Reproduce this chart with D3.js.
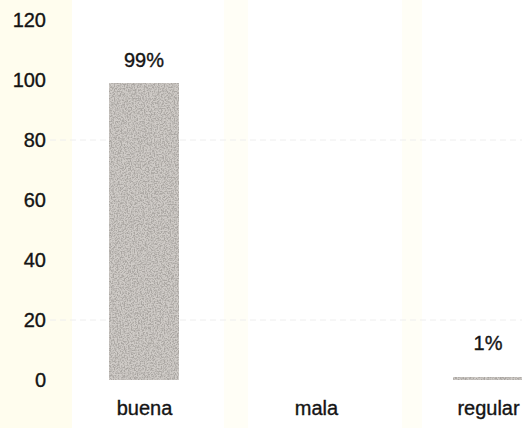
<!DOCTYPE html>
<html>
<head>
<meta charset="utf-8">
<script src="https://cdn.jsdelivr.net/npm/d3@7"></script>
<style>
  html, body { margin: 0; padding: 0; background: #ffffff; }
  svg { display: block; }
  text { font-family: "Liberation Sans", Arial, sans-serif; fill: #141414; stroke: #141414; stroke-width: 0.35px; }
</style>
</head>
<body>
<script>
const categories = ["buena", "mala", "regular"];
const values = [99, 0, 1];
const valueLabels = ["99%", "", "1%"];
const yTicks = [0, 20, 40, 60, 80, 100, 120];

const W = 522, H = 428;
const svg = d3.select("body").append("svg").attr("width", W).attr("height", H);

const defs = svg.append("defs");
const f = defs.append("filter").attr("id", "speckle")
  .attr("x", 0).attr("y", 0).attr("width", 1).attr("height", 1);
f.append("feTurbulence").attr("type", "fractalNoise").attr("baseFrequency", 0.7)
  .attr("numOctaves", 2).attr("seed", 4).attr("result", "noise");
f.append("feColorMatrix").attr("in", "noise").attr("type", "matrix")
  .attr("values", "0 0 0 0 0.40  0 0 0 0 0.38  0 0 0 0 0.36  3.4 0 0 0 -1.3")
  .attr("result", "dots");
f.append("feComposite").attr("in", "dots").attr("in2", "SourceGraphic")
  .attr("operator", "in").attr("result", "d2");
const merge = f.append("feMerge");
merge.append("feMergeNode").attr("in", "SourceGraphic");
merge.append("feMergeNode").attr("in", "d2");

// faint scan tint
svg.append("rect").attr("x", 0).attr("y", 0).attr("width", 72).attr("height", H).attr("fill", "#fffdee");
svg.append("rect").attr("x", 224).attr("y", 0).attr("width", 24).attr("height", H).attr("fill", "#fffef6");
svg.append("rect").attr("x", 402).attr("y", 0).attr("width", 20).attr("height", H).attr("fill", "#fffef6");

const y = d3.scaleLinear().domain([0, 120]).range([380, 20]);
const x = d3.scalePoint().domain(categories).range([144, 488]);
const barW = 70;

// ghost gridlines from the scan
svg.append("g").selectAll("line").data([20, 80]).join("line")
  .attr("x1", 50).attr("x2", W)
  .attr("y1", d => y(d)).attr("y2", d => y(d))
  .attr("stroke", "#eeeeee").attr("stroke-width", 1).attr("stroke-dasharray", "6,4");

// y axis labels
const yAxis = d3.axisLeft(y).tickValues(yTicks).tickSize(0).tickPadding(0).tickFormat(d3.format("d"));
const ga = svg.append("g").attr("transform", "translate(46,0)").call(yAxis);
ga.select(".domain").remove();
ga.selectAll("text").style("font-size", "20px").attr("fill", "#141414")
  .style("font-family", "\"Liberation Sans\", Arial, sans-serif");

// bars
svg.append("g").selectAll("rect").data(categories).join("rect")
  .attr("x", d => x(d) - barW / 2)
  .attr("y", (d, i) => y(values[i]))
  .attr("width", barW)
  .attr("height", (d, i) => y(0) - y(values[i]))
  .attr("fill", "#d0ccc8")
  .attr("filter", "url(#speckle)");

// value labels
svg.append("g").selectAll("text").data(categories).join("text")
  .attr("x", d => x(d))
  .attr("y", (d, i) => Math.min(y(values[i]) - 16, y(0) - 30))
  .attr("text-anchor", "middle")
  .style("font-size", "20px")
  .text((d, i) => valueLabels[i]);

// category labels
const xAxis = d3.axisBottom(x).tickSize(0).tickPadding(0);
const gx = svg.append("g").attr("transform", "translate(0,401)").call(xAxis);
gx.select(".domain").remove();
gx.selectAll("text").style("font-size", "20px").attr("fill", "#141414")
  .style("font-family", "\"Liberation Sans\", Arial, sans-serif");
</script>
</body>
</html>
